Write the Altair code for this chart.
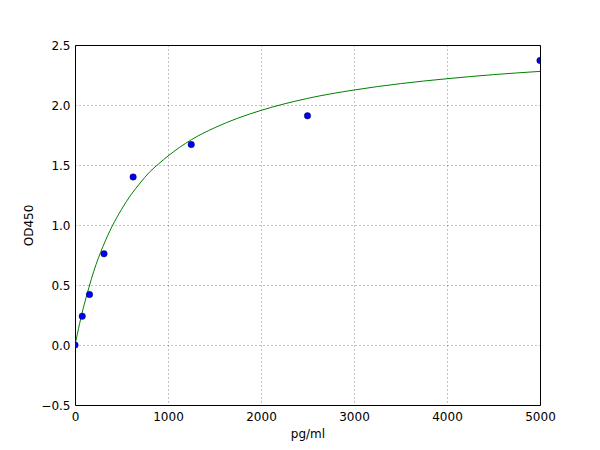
import pandas as pd
import altair as alt

# standard points (pg/ml vs OD450)
conc = [0, 78, 156, 312, 625, 1250, 2500, 5000]
od = [0.0, 0.24, 0.42, 0.76, 1.40, 1.67, 1.91, 2.37]

# fitted curve
fit_x = [0, 25, 50, 100, 150, 200, 300, 400, 500, 600, 700, 800, 900, 1000,
         1250, 1500, 1750, 2000, 2500, 3000, 3500, 4000, 4500, 5000]
fit_y = [0.0, 0.09, 0.18, 0.34, 0.48, 0.61, 0.82, 0.99, 1.13, 1.25, 1.35, 1.44, 1.51, 1.575,
         1.71, 1.81, 1.89, 1.955, 2.055, 2.125, 2.178, 2.219, 2.253, 2.28]

x_ticks = [0, 1000, 2000, 3000, 4000, 5000]
y_ticks = [-0.5, 0.0, 0.5, 1.0, 1.5, 2.0, 2.5]

points_df = pd.DataFrame({'conc': conc, 'od': od})
curve_df = pd.DataFrame({'conc': fit_x, 'od': fit_y})

x_scale = alt.Scale(domain=[0, 5000], nice=False, zero=False)
y_scale = alt.Scale(domain=[-0.5, 2.5], nice=False, zero=False)

x_axis = alt.Axis(title='pg/ml', values=x_ticks, format='d', labelFlush=False,
                  ticks=False, labelPadding=6, titleY=28, titleBaseline='middle')
y_axis = alt.Axis(title='OD450', values=y_ticks, format='.1f', labelFlush=False,
                  ticks=False, labelPadding=5, titleX=-47, titleY=180,
                  titleBaseline='middle')

curve = alt.Chart(curve_df).mark_line(color='#008000', strokeWidth=1, clip=True,
                                      interpolate='monotone').encode(
    x=alt.X('conc:Q', scale=x_scale, axis=x_axis),
    y=alt.Y('od:Q', scale=y_scale, axis=y_axis)
)

points = alt.Chart(points_df).mark_point(filled=True, size=42, color='#0000ff',
                                         stroke='#000000', strokeWidth=0.4,
                                         opacity=1, clip=True).encode(
    x=alt.X('conc:Q', scale=x_scale),
    y=alt.Y('od:Q', scale=y_scale)
)

chart = (curve + points).properties(
    width=465,
    height=360,
    background='#ffffff',
    autosize=alt.AutoSizeParams(type='none'),
    padding={'left': 67, 'top': 37, 'right': 52, 'bottom': 37}
).configure_view(
    stroke='#000000',
    strokeWidth=1
).configure_axis(
    domain=False,
    grid=True,
    gridColor='#000000',
    gridOpacity=0.6,
    gridDash=[1, 3],
    gridWidth=0.8,
    labelFont='DejaVu Sans',
    labelFontSize=12,
    labelColor='#000000',
    titleFont='DejaVu Sans',
    titleFontSize=12,
    titleFontWeight='normal',
    titleColor='#000000'
)

chart.save("out.html", embed_options={"renderer": "svg", "actions": False})
